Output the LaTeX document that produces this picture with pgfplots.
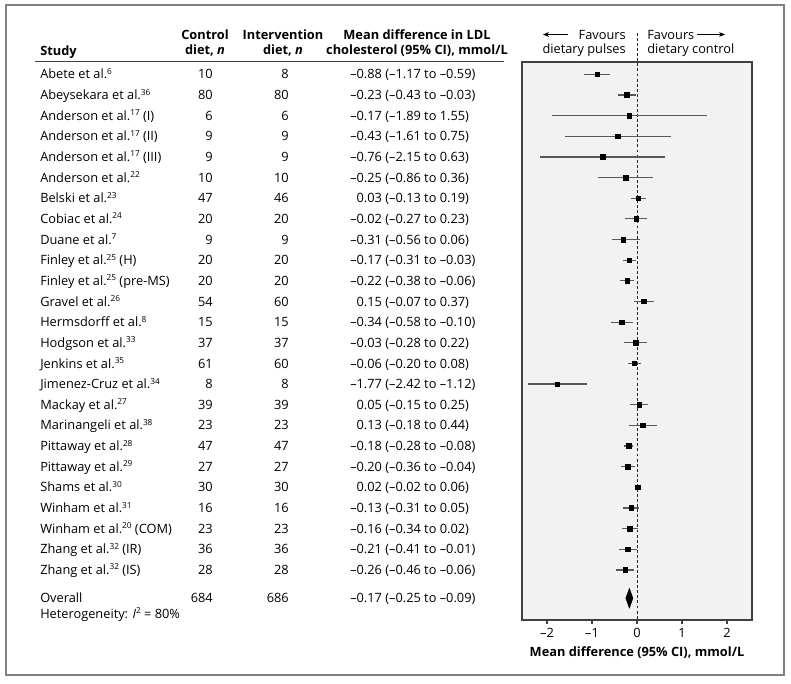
\documentclass[border=0pt]{standalone}
\usepackage{fontspec}
\setmainfont{Open Sans}
\usepackage{pgfplots}
\pgfplotsset{compat=1.18}
\usepackage{pgfplotstable}
\usetikzlibrary{arrows.meta}

\pgfplotstableread{
i m lo hi
1 -0.88 -1.17 -0.59
2 -0.23 -0.43 -0.03
3 -0.17 -1.89 1.55
4 -0.43 -1.61 0.75
5 -0.76 -2.15 0.63
6 -0.25 -0.86 0.36
7 0.03 -0.13 0.19
8 -0.02 -0.27 0.23
9 -0.31 -0.56 0.06
10 -0.17 -0.31 -0.03
11 -0.22 -0.38 -0.06
12 0.15 -0.07 0.37
13 -0.34 -0.58 -0.10
14 -0.03 -0.28 0.22
15 -0.06 -0.20 0.08
16 -1.77 -2.42 -1.12
17 0.05 -0.15 0.25
18 0.13 -0.18 0.44
19 -0.18 -0.28 -0.08
20 -0.20 -0.36 -0.04
21 0.02 -0.02 0.06
22 -0.13 -0.31 0.05
23 -0.16 -0.34 0.02
24 -0.21 -0.41 -0.01
25 -0.26 -0.46 -0.06
}\fpdata

\newcommand\ry[1]{74.3+(#1-1)*20.65+4.6}
\newcommand\studyrow[5]{%
 \node[anchor=base west] at (40,{\ry{#1}}) {#2};
 \node[anchor=base east] at (213,{\ry{#1}}) {#3};
 \node[anchor=base east] at (289,{\ry{#1}}) {#4};
 \node[anchor=base west] at (350,{\ry{#1}}) {#5};}
\newcommand\p{\phantom{–}}
\newcommand\sups[1]{\raisebox{3.4pt}{\fontsize{6.2}{6.2}\selectfont #1}}

\begin{document}
\fontsize{9.6}{11.5}\selectfont
\begin{tikzpicture}
\begin{scope}[x=0.75pt,y=-0.75pt, every node/.style={inner sep=0pt}]
\useasboundingbox (0,0) rectangle (791,683);
\draw[black!50, line width=1.1pt] (6,5) rectangle (784,675);
% headers
\node[anchor=base west, font=\bfseries] at (40,55) {Study};
\node[anchor=base, font=\bfseries] at (205,39) {Control};
\node[anchor=base, font=\bfseries] at (205,54) {diet, \textit{n}};
\node[anchor=base, font=\bfseries] at (283,39) {Intervention};
\node[anchor=base, font=\bfseries] at (283,54) {diet, \textit{n}};
\node[anchor=base, font=\bfseries] at (417,39) {Mean difference in LDL};
\node[anchor=base, font=\bfseries] at (417,54) {cholesterol (95\% CI), mmol/L};
\draw[black!75, line width=0.8pt] (35,61.5) -- (504,61.5);
% favours
\draw[-{Stealth[length=4.5pt,width=3.6pt]}, line width=0.6pt] (568,34.5) -- (543,34.5);
\draw[-{Stealth[length=4.5pt,width=3.6pt]}, line width=0.6pt] (697,34.5) -- (725,34.5);
\node[anchor=base east] at (626,39) {Favours};
\node[anchor=base east] at (626,53) {dietary pulses};
\node[anchor=base west] at (647,39) {Favours};
\node[anchor=base west] at (647,53) {dietary control};
% rows
\studyrow{1}{Abete et al.\sups{6}}{10}{8}{–0.88 (–1.17 to –0.59)}
\studyrow{2}{Abeysekara et al.\sups{36}}{80}{80}{–0.23 (–0.43 to –0.03)}
\studyrow{3}{Anderson et al.\sups{17} (I)}{6}{6}{–0.17 (–1.89 to 1.55)}
\studyrow{4}{Anderson et al.\sups{17} (II)}{9}{9}{–0.43 (–1.61 to 0.75)}
\studyrow{5}{Anderson et al.\sups{17} (III)}{9}{9}{–0.76 (–2.15 to 0.63)}
\studyrow{6}{Anderson et al.\sups{22}}{10}{10}{–0.25 (–0.86 to 0.36)}
\studyrow{7}{Belski et al.\sups{23}}{47}{46}{\p0.03 (–0.13 to 0.19)}
\studyrow{8}{Cobiac et al.\sups{24}}{20}{20}{–0.02 (–0.27 to 0.23)}
\studyrow{9}{Duane et al.\sups{7}}{9}{9}{–0.31 (–0.56 to 0.06)}
\studyrow{10}{Finley et al.\sups{25} (H)}{20}{20}{–0.17 (–0.31 to –0.03)}
\studyrow{11}{Finley et al.\sups{25} (pre-MS)}{20}{20}{–0.22 (–0.38 to –0.06)}
\studyrow{12}{Gravel et al.\sups{26}}{54}{60}{\p0.15 (–0.07 to 0.37)}
\studyrow{13}{Hermsdorff et al.\sups{8}}{15}{15}{–0.34 (–0.58 to –0.10)}
\studyrow{14}{Hodgson et al.\sups{33}}{37}{37}{–0.03 (–0.28 to 0.22)}
\studyrow{15}{Jenkins et al.\sups{35}}{61}{60}{–0.06 (–0.20 to 0.08)}
\studyrow{16}{Jimenez-Cruz et al.\sups{34}}{8}{8}{–1.77 (–2.42 to –1.12)}
\studyrow{17}{Mackay et al.\sups{27}}{39}{39}{\p0.05 (–0.15 to 0.25)}
\studyrow{18}{Marinangeli et al.\sups{38}}{23}{23}{\p0.13 (–0.18 to 0.44)}
\studyrow{19}{Pittaway et al.\sups{28}}{47}{47}{–0.18 (–0.28 to –0.08)}
\studyrow{20}{Pittaway et al.\sups{29}}{27}{27}{–0.20 (–0.36 to –0.04)}
\studyrow{21}{Shams et al.\sups{30}}{30}{30}{\p0.02 (–0.02 to 0.06)}
\studyrow{22}{Winham et al.\sups{31}}{16}{16}{–0.13 (–0.31 to 0.05)}
\studyrow{23}{Winham et al.\sups{20} (COM)}{23}{23}{–0.16 (–0.34 to 0.02)}
\studyrow{24}{Zhang et al.\sups{32} (IR)}{36}{36}{–0.21 (–0.41 to –0.01)}
\studyrow{25}{Zhang et al.\sups{32} (IS)}{28}{28}{–0.26 (–0.46 to –0.06)}
\studyrow{26.37}{Overall}{684}{686}{–0.17 (–0.25 to –0.09)}
\node[anchor=base west] at (40,618) {Heterogeneity: \textit{I}\sups{2} = 80\%};
\node[anchor=base, font=\bfseries] at (637,656) {Mean difference (95\% CI), mmol/L};
\end{scope}
\begin{axis}[
 at={(391.5pt,-465pt)}, anchor=south west,
 scale only axis, width=172.5pt, height=418.5pt,
 xmin=-2.556, xmax=2.556, ymin=-27.426, ymax=-0.404,
 axis background/.style={fill=black!5},
 axis line style={black!75, line width=0.8pt},
 xtick={-2,-1,0,1,2}, xticklabels={–2,–1,0,1,2},
 ytick=\empty, xtick pos=left,
 tick align=outside, major tick length=3pt,
 tick style={black!75, line width=0.8pt},
 xticklabel style={anchor=base, yshift=-9.75pt, inner sep=0pt},
 clip=false,
]
\addplot[black!85, line width=0.6pt, dash pattern=on 2.2pt off 1.6pt] coordinates {(0,1.0) (0,-27.426)};
\addplot[only marks, mark=square*, mark size=1.7pt, mark options={black},
  error bars/.cd, x dir=both, x explicit, error mark=none,
  error bar style={black!65, line width=0.9pt}]
  table[x=m, y expr=-\thisrow{i}, x error plus expr=\thisrow{hi}-\thisrow{m}, x error minus expr=\thisrow{m}-\thisrow{lo}] {\fpdata};
\addplot[fill=black, draw=black, line width=0.3pt] coordinates {(-0.25,-26.37) (-0.17,-25.89) (-0.09,-26.37) (-0.17,-26.85)} -- cycle;
\end{axis}
\end{tikzpicture}
\end{document}
